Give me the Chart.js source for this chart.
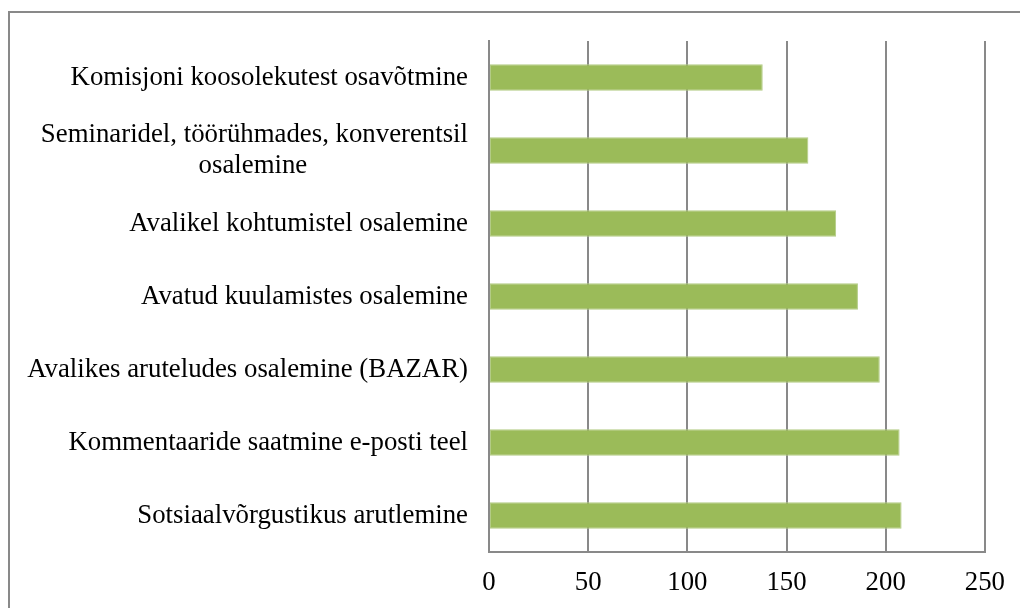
<!DOCTYPE html>
<html>
<head>
<meta charset="utf-8">
<script src="https://cdn.jsdelivr.net/npm/chart.js@4/dist/chart.umd.min.js"></script>
<style>
  html, body { margin: 0; padding: 0; background: #fff; }
  #wrap { width: 1020px; height: 608px; position: relative; }
</style>
</head>
<body>
<div id="wrap"><canvas id="bars" width="1020" height="608"></canvas></div>
<script>
// categories, top to bottom
var categories = [
  'Komisjoni koosolekutest osavõtmine',
  ['Seminaridel, töörühmades, konverentsil', 'osalemine'],
  'Avalikel kohtumistel osalemine',
  'Avatud kuulamistes osalemine',
  'Avalikes aruteludes osalemine (BAZAR)',
  'Kommentaaride saatmine e-posti teel',
  'Sotsiaalvõrgustikus arutlemine'
];
var values = [138, 161, 175, 186, 197, 207, 208];
var xTicks = [0, 50, 100, 150, 200, 250];

var fontSize = 26.8;

// frame around the chart (only top and left edges are inside the picture)
var framePlugin = {
  id: 'frame',
  beforeDraw: function (chart) {
    var c = chart.ctx;
    c.save();
    c.strokeStyle = '#898989';
    c.lineWidth = 2;
    c.beginPath();
    c.moveTo(9, 700);
    c.lineTo(9, 12);
    c.lineTo(1020, 12);
    c.stroke();
    c.restore();
  }
};

// second line of a wrapped label is centred under the first, like in Office
var centreLines = function (lbl, ctx) {
  if (!Array.isArray(lbl)) return lbl;
  ctx.font = fontSize + 'px "Liberation Serif"';
  var w0 = ctx.measureText(lbl[0]).width;
  return lbl.map(function (line, i) {
    if (i === 0) return line;
    var gap = (w0 - ctx.measureText(line).width) / 2;
    var sp = ctx.measureText('\u00a0').width;
    return line + '\u00a0'.repeat(Math.round(gap / sp));
  });
};
var measureCtx = document.createElement('canvas').getContext('2d');
var yLabels = categories.map(function (l) { return centreLines(l, measureCtx); });

var ctx = document.getElementById('bars').getContext('2d');
var chart = new Chart(ctx, {
  type: 'bar',
  data: {
    labels: yLabels,
    datasets: [{
      data: values,
      backgroundColor: '#9BBB59',
      borderColor: '#B3CC86',
      borderWidth: 1,
      borderSkipped: false,
      categoryPercentage: 1,
      barPercentage: 0.36
    }]
  },
  options: {
    indexAxis: 'y',
    responsive: false,
    animation: false,
    layout: { padding: { top: 41, right: 35, left: 0, bottom: 0 } },
    plugins: { legend: { display: false }, tooltip: { enabled: false } },
    scales: {
      x: {
        min: 0,
        max: 250,
        afterBuildTicks: function (s) { s.ticks = xTicks.map(function (v) { return { value: v }; }); },
        afterFit: function (s) { s.height = 56; },
        border: { display: true, color: '#898989', width: 2 },
        grid: { color: '#898989', lineWidth: 2, drawTicks: false },
        ticks: {
          padding: 15,
          color: '#000',
          font: { family: '"Liberation Serif"', size: fontSize }
        }
      },
      y: {
        afterFit: function (s) { s.width = 489; },
        border: { display: true, color: '#898989', width: 2 },
        grid: { display: false, drawTicks: false },
        ticks: {
          padding: 21,
          color: '#000',
          font: { family: '"Liberation Serif"', size: fontSize, lineHeight: 1.17 }
        }
      }
    }
  },
  plugins: [framePlugin]
});
</script>
</body>
</html>
